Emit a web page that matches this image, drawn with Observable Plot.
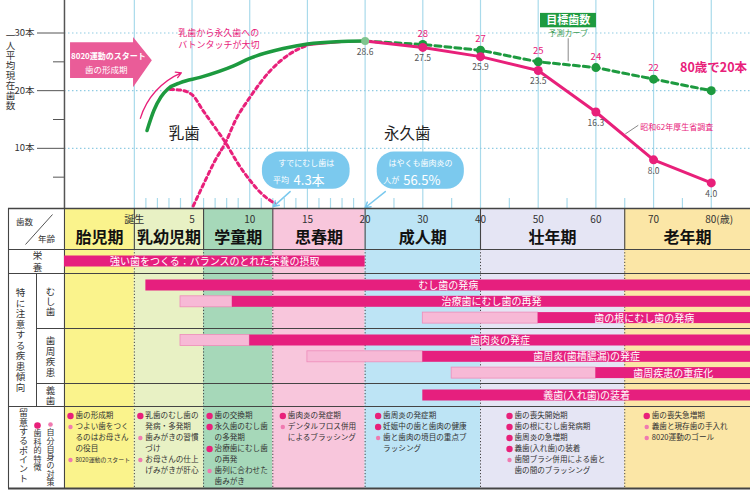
<!DOCTYPE html>
<html><head><meta charset="utf-8">
<script src="https://cdn.jsdelivr.net/npm/d3@7"></script>
<script src="https://cdn.jsdelivr.net/npm/@observablehq/plot@0.6"></script>
<style>
body{margin:0;background:#fff;}
#chart svg{display:block;}
</style></head><body><div id="chart"></div>
<script>
// ---------- DATA ----------
const gridAges = [0,5,10,15,20,30,40,50,60,70,80];
const ageLabels = ["誕生","5","10","15","20","30","40","50","60","70","80(歳)"];
const minorAges = [1,2,3,4,6,7,8,9,11,12,13,14,16,17,18,19,25,35,45,55,65,75];
const yTicks = [10,20,30];
const yTickLabels = ["10本","20本","30本"];
const yMinorTicks = [5,15,25];

const surveyAges = [20,30,40,50,60,70,80];
const surveyTeeth = [28.6,27.5,25.9,23.5,16.3,8.0,4.0];
const targetAges = [20,30,40,50,60,70,80];
const targetTeeth = [28.6,28,27,25,24,22,20];
const currentAges = [1.1,1.7,2.3,2.9,4,5.7,8.6,10,12.9,15,17.5,20];
const currentTeeth = [13.1,16.6,18.9,20.3,21.4,22.3,24.3,25.6,27.3,28.1,28.5,28.6];
const babyAges = [3.1,4,5,6,7,7.9,9,10,11,12.2];
const babyTeeth = [20.2,20.1,19.3,16.4,13.6,11.0,7.3,4.5,2.2,0.4];
const permAges = [5.1,6,7,7.9,8.75,10,11.8,13.5,15];
const permTeeth = [0,3.8,7.9,11.0,14.8,18.8,23.5,26.4,27.9];
const permSolidAges = [15,17.5,20];
const permSolidTeeth = [27.9,28.4,28.6];

const stages = ["胎児期","乳幼児期","学童期","思春期","成人期","壮年期","老年期"];
const stageStart = [-Infinity,0,6,12,20,40,65];
const stageEnd = [0,6,12,20,40,65,Infinity];

const barRows = ["栄養","むし歯","むし歯","むし歯","歯周疾患","歯周疾患","歯周疾患","義歯"];
const barTexts = ["強い歯をつくる：バランスのとれた栄養の摂取","むし歯の発病","治療歯にむし歯の再発","歯の根にむし歯の発病","歯肉炎の発症","歯周炎(歯槽膿漏)の発症","歯周疾患の重症化","義歯(入れ歯)の装着"];
const barLightFrom = [null,null,4,30,4,15,35,null];
const barDarkFrom = [-Infinity,1,8.5,50,10,30,60,30];
const barTo = [20,Infinity,Infinity,Infinity,Infinity,Infinity,Infinity,Infinity];

const careFetal = [["d","歯の形成期"],["s","つよい歯をつく\nるのはお母さん\nの役目"],["s","8020運動のスタート"]];
const careInfant = [["d","乳歯のむし歯の\n発病・多発期"],["s","歯みがきの習慣\nづけ"],["s","お母さんの仕上\nげみがきが肝心"]];
const careSchool = [["d","歯の交換期"],["d","永久歯のむし歯\nの多発期"],["d","治療歯にむし歯\nの再発"],["s","歯列に合わせた\n歯みがき"]];
const carePuberty = [["d","歯肉炎の発症期"],["s","デンタルフロス併用\nによるブラッシング"]];
const careAdult = [["d","歯周炎の発症期"],["d","妊娠中の歯と歯肉の健康"],["s","歯と歯肉の境目の重点ブ\nラッシング"]];
const careMiddle = [["d","歯の喪失開始期"],["d","歯の根にむし歯発病期"],["d","歯周炎の急増期"],["d","義歯(入れ歯)の装着"],["s","歯間ブラシ併用による歯と\n歯の間のブラッシング"]];
const careOld = [["d","歯の喪失急増期"],["s","義歯と現存歯の手入れ"],["s","8020運動のゴール"]];

// ---------- STYLE / LAYOUT ----------
const FONT = "'Noto Sans CJK JP','Noto Sans',sans-serif";
const PINK = "#e8207a", GREEN = "#1d9a3f", BLUE = "#7bc9ee";
const stageFill = ["#faf38c","#e8f1c4","#a6d8b9","#f8c6dc","#bde4f5","#e5e5f4","#fbe6a6"];
const careIndent = [6,6,6,10,13,29,22];
const XMIN = -2.32, XMAX = 10.68, XL = -1.211;
const PX_PER_X = 750 / (XMAX - XMIN);
const pxX = px => XMIN + px / PX_PER_X;   // label-column layout helper
const ax = a => a === -Infinity ? XL : a === Infinity ? XMAX : (a <= 20 ? a / 5 : 4 + (a - 20) / 10);
const pairs = (xs, ys) => xs.map((a, i) => ({age: a, teeth: ys[i]}));
const ems = s => [...s].reduce((t, c) => t + (c.charCodeAt(0) < 128 ? 0.56 : 1), 0);
// vertical (tategaki) labels: [fontSize, character pitch]
const vStyle = {"一人平均現在歯数": [9.5, 10], "栄養": [9.5, 12], "特に注意する疾患傾向": [9.5, 10.5], "むし歯": [9.5, 10.3],
  "歯周疾患": [9.5, 10.7], "義歯": [9.5, 10.7], "留意するポイント": [9, 9.3], "歯科的特徴": [8, 8.5], "自分自身の対策": [8, 8.3]};
const vtext = (label, x, y) => Plot.text([label], {x, y, text: d => [...d].join("\n"),
  fontSize: vStyle[label][0], lineHeight: vStyle[label][1] / vStyle[label][0], fill: "#333"});

const survey = pairs(surveyAges, surveyTeeth);
const target = pairs(targetAges, targetTeeth);
const current = pairs(currentAges, currentTeeth);
const baby = pairs(babyAges, babyTeeth);
const perm = pairs(permAges, permTeeth);
const permSolid = pairs(permSolidAges, permSolidTeeth);
const X = d => ax(d.age);

// ---------- CHART ----------
const chart = Plot.plot({
  width: 750, height: 208, margin: 0,
  x: {domain: [XMIN, XMAX], range: [0, 750], axis: null},
  y: {domain: [0, 30], range: [205.5, 32.5], axis: null},
  style: {fontFamily: FONT, background: "white", overflow: "visible"},
  marks: [
    Plot.ruleX(gridAges, {x: ax, stroke: "#a9daeb", strokeWidth: 1.2}),
    Plot.ruleY(yTicks, {y: d => d, x1: XL, x2: XMAX, stroke: "#8fcbe3", strokeWidth: 1.2, strokeDasharray: "1.5,2.5"}),
    Plot.ruleX(minorAges, {x: ax, y1: -0.45, y2: 1.3, stroke: "#a9daeb", strokeWidth: 1.2}),
    Plot.ruleX([XL], {x: d => d, stroke: "#555", strokeWidth: 1.5}),
    Plot.ruleY(yTicks, {y: d => d, x1: pxX(37), x2: XL, stroke: "#555"}),
    Plot.ruleY(yMinorTicks, {y: d => d, x1: pxX(53), x2: XL, stroke: "#555"}),
    Plot.text(yTicks, {y: d => d, x: pxX(34), text: (d, i) => yTickLabels[i], textAnchor: "end", fontSize: 9.5, fill: "#333"}),
    vtext("一人平均現在歯数", pxX(10), 23.5),
    // 8020 arrow box
    Plot.area([{a: -5.53, lo: 22.1, hi: 28.3}, {a: -0.07, lo: 22.1, hi: 28.3}, {a: -0.07, lo: 20.5, hi: 29.2}, {a: 1.56, lo: 25.2, hi: 25.2}],
      {x1: d => ax(d.a), y1: "lo", y2: "hi", fill: "#ea5c98", curve: "linear"}),
    Plot.text(["8020運動のスタート"], {x: ax(-2.25), y: 25.9, text: d => d, fill: "white", fontWeight: "bold", fontSize: 8}),
    Plot.text(["歯の形成期"], {x: ax(-2.43), y: 23.5, text: d => d, fill: "white", fontSize: 8.5}),
    Plot.arrow([0], {x1: ax(0.52), y1: 15.2, x2: ax(4.07), y2: 23.1, bend: 25, stroke: PINK, strokeWidth: 1.3, headLength: 7}),
    // curves
    Plot.line(baby, {x: X, y: "teeth", curve: "monotone-x", stroke: PINK, strokeWidth: 3, strokeDasharray: "3.5,3.5"}),
    Plot.line(perm, {x: X, y: "teeth", curve: "monotone-x", stroke: PINK, strokeWidth: 3, strokeDasharray: "3.5,3.5"}),
    Plot.line(permSolid, {x: X, y: "teeth", curve: "monotone-x", stroke: PINK, strokeWidth: 2.5}),
    Plot.line(current, {x: X, y: "teeth", curve: "monotone-x", stroke: GREEN, strokeWidth: 3.5}),
    Plot.line(target, {x: X, y: "teeth", stroke: GREEN, strokeWidth: 3, strokeDasharray: "6,4"}),
    Plot.line(survey, {x: X, y: "teeth", stroke: PINK, strokeWidth: 3}),
    Plot.dot(target.slice(1), {x: X, y: "teeth", r: 4.5, fill: GREEN}),
    Plot.dot(survey.slice(1), {x: X, y: "teeth", r: 4.5, fill: PINK}),
    Plot.dot(survey.slice(0, 1), {x: X, y: "teeth", r: 4, fill: "#7fc58f"}),
    Plot.text(survey, {x: X, y: "teeth", text: d => d.teeth.toFixed(1), dy: 11, fontSize: 8.5, fill: "#555"}),
    Plot.text(target.slice(1, -1), {x: X, y: "teeth", text: d => String(d.teeth), dy: -11, fontSize: 9.5, fill: PINK}),
    // annotations
    Plot.text(["乳歯から永久歯への\nバトンタッチが大切"], {x: ax(3.8), y: 29.1, text: d => d, textAnchor: "start", lineHeight: 1.3, fontSize: 9, fill: PINK}),
    Plot.text(["乳歯"], {x: ax(4.33), y: 12.4, text: d => d, fontSize: 15.5, fill: "#222"}),
    Plot.text(["永久歯"], {x: ax(27.3), y: 12.4, text: d => d, fontSize: 15.5, fill: "#222"}),
    Plot.rect([0], {x1: ax(50.4), x2: ax(60.1), y1: 30.9, y2: 33.4, fill: GREEN}),
    Plot.text(["目標歯数"], {x: ax(55.2), y: 32.15, text: d => d, fill: "white", fontWeight: "bold", fontSize: 11}),
    Plot.text(["予測カーブ"], {x: ax(55.2), y: 30.0, text: d => d, fill: "#3a9a50", fontSize: 8}),
    Plot.ruleX([55.2], {x: ax, y1: 25.0, y2: 29.0, stroke: "#888"}),
    Plot.text(["昭和62年厚生省調査"], {x: ax(67.7), y: 13.6, text: d => d, textAnchor: "start", fill: PINK, fontSize: 8}),
    Plot.link([0], {x1: ax(67.35), y1: 14.0, x2: ax(65.1), y2: 12.5, stroke: "#888"}),
    Plot.text(["80歳で20本"], {x: ax(74.6), y: 24, text: d => d, textAnchor: "start", fill: PINK, fontWeight: "bold", fontSize: 12.5}),
    // bubbles
    Plot.rect([{a1: 11.1, a2: 18.7}, {a1: 22.1, a2: 37.2}], {x1: d => ax(d.a1), x2: d => ax(d.a2), y1: 2.9, y2: 9.35, rx: 17, fill: BLUE}),
    Plot.arrow([{a1: 13.5, a2: 12.05, t2: -0.1}, {a1: 23.5, a2: 20, t2: -0.3}], {x1: d => ax(d.a1), y1: 2.5, x2: d => ax(d.a2), y2: "t2", stroke: BLUE, strokeWidth: 1.5, headLength: 6}),
    Plot.text(["すでにむし歯は"], {x: ax(14.9), y: 7.4, text: d => d, fill: "white", fontSize: 8}),
    Plot.text(["平均"], {x: ax(13.4), y: 4.4, text: d => d, textAnchor: "end", fill: "white", fontSize: 8}),
    Plot.text(["4.3本"], {x: ax(13.8), y: 4.4, text: d => d, textAnchor: "start", fill: "white", fontSize: 13}),
    Plot.text(["はやくも歯肉炎の"], {x: ax(29.6), y: 7.4, text: d => d, fill: "white", fontSize: 8}),
    Plot.text(["人が"], {x: ax(25.9), y: 4.4, text: d => d, textAnchor: "end", fill: "white", fontSize: 8}),
    Plot.text(["56.5%"], {x: ax(26.6), y: 4.4, text: d => d, textAnchor: "start", fill: "white", fontSize: 13})
  ]
});

// ---------- TABLE ----------
const rowTop = {"栄養": 41, "むし歯": 65, "歯周疾患": 120, "義歯": 175};
const slotCount = {};
const bars = barRows.map((r, i) => {
  const slot = slotCount[r] = (slotCount[r] ?? -1) + 1;
  return {row: r, text: barTexts[i], light: barLightFrom[i], dark: barDarkFrom[i], to: barTo[i], top: rowTop[r] + 6.5 + 16.3 * slot};
});
const stageData = stages.map((s, i) => ({name: s, start: stageStart[i], end: stageEnd[i], fill: stageFill[i]}));
const careByStage = [careFetal, careInfant, careSchool, carePuberty, careAdult, careMiddle, careOld];
const careLines = [];
careByStage.forEach((items, s) => {
  let li = 0;
  const avail = (ax(stageEnd[s]) - ax(stageStart[s])) * PX_PER_X - careIndent[s] - 9;
  items.forEach(([kind, txt]) => txt.split("\n").forEach((line, j) => {
    careLines.push({stage: s, line: li++, text: line, bullet: j === 0 ? kind : null, size: Math.min(7.6, avail / ems(line))});
  }));
});
const LINE = "#444";
const tableMarks = [
  Plot.rect(stageData, {x1: d => ax(d.start), x2: d => ax(d.end), y1: 0, y2: 280, fill: "fill"}),
  // horizontal borders
  Plot.ruleY([0], {y: d => d, x1: pxX(8), x2: XMAX, stroke: LINE, strokeWidth: 1.6}),
  Plot.ruleY([41, 65, 198], {y: d => d, x1: pxX(8), x2: XMAX, stroke: LINE, strokeWidth: 1.1}),
  Plot.ruleY([120, 175], {y: d => d, x1: pxX(36), x2: XMAX, stroke: LINE, strokeWidth: 1.1}),
  Plot.ruleY([280], {y: d => d, x1: pxX(8), x2: XMAX, stroke: LINE, strokeWidth: 2}),
  // vertical borders
  Plot.ruleX([pxX(8), XL], {x: d => d, y1: 0, y2: 280, stroke: LINE, strokeWidth: 1.1}),
  Plot.ruleX([pxX(36)], {x: d => d, y1: 65, y2: 198, stroke: LINE, strokeWidth: 1}),
  Plot.ruleX(stageStart.slice(1), {x: ax, y1: 0, y2: 41, stroke: LINE, strokeWidth: 1.1}),
  Plot.ruleX(stageStart.slice(1), {x: ax, y1: 41, y2: 280, stroke: LINE, strokeWidth: 1, strokeDasharray: "1.2,2"}),
  // header
  Plot.text(gridAges.slice(0, -1), {x: ax, y: 11, text: (d, i) => ageLabels[i], fontSize: 10, fill: "#333"}),
  Plot.text(gridAges.slice(-1), {x: ax, y: 11, text: () => ageLabels[ageLabels.length - 1], textAnchor: "start", dx: -6, fontSize: 10, fill: "#333"}),
  Plot.text(stageData, {x: d => (ax(d.start) + ax(d.end)) / 2, y: 29, text: "name", fontSize: 16, fontWeight: "bold", fill: "#111"}),
  Plot.text(["歯数"], {x: pxX(24), y: 14, text: d => d, fontSize: 8.5, fill: "#333"}),
  Plot.text(["年齢"], {x: pxX(46), y: 31, text: d => d, fontSize: 8.5, fill: "#333"}),
  Plot.link([0], {x1: pxX(52), y1: 6, x2: pxX(25), y2: 36, stroke: "#555"}),
  // left label column
  vtext("栄養", pxX(37), 53),
  vtext("特に注意する疾患傾向", pxX(20), 131.5),
  vtext("むし歯", pxX(50), 93),
  vtext("歯周疾患", pxX(50), 148),
  vtext("義歯", pxX(50), 187),
  vtext("留意するポイント", pxX(23), 237.5),
  Plot.dot([0], {x: pxX(37), y: 217, r: 3.3, fill: PINK}),
  vtext("歯科的特徴", pxX(37), 242),
  Plot.dot([0], {x: pxX(50), y: 216, r: 2.3, fill: "#f07ab0"}),
  vtext("自分自身の対策", pxX(50), 249),
  // bars
  Plot.rect(bars.filter(d => d.light != null), {x1: d => ax(d.light), x2: d => ax(d.dark), y1: "top", y2: d => d.top + 11, fill: "#f7b9d6", stroke: "#ee8cba", strokeWidth: 0.8}),
  Plot.rect(bars, {x1: d => ax(d.dark), x2: d => ax(d.to), y1: "top", y2: d => d.top + 11, fill: "#e61f7e"}),
  Plot.text(bars, {x: d => (ax(d.dark) + ax(d.to)) / 2, y: d => d.top + 5.7, text: "text", fill: "white", fontSize: 10})
];
stages.forEach((st, s) => {
  const lines = careLines.filter(d => d.stage === s);
  const x0 = ax(stageStart[s]);
  const yy = d => 207.5 + 11 * d.line;
  tableMarks.push(
    Plot.text(lines, {x: x0, y: yy, text: "text", dx: careIndent[s] + 5, textAnchor: "start", fontSize: "size", fill: "#333"}),
    Plot.dot(lines.filter(d => d.bullet === "d"), {x: x0, y: yy, dx: careIndent[s], r: 3.2, fill: PINK}),
    Plot.dot(lines.filter(d => d.bullet === "s"), {x: x0, y: yy, dx: careIndent[s], r: 2.2, fill: "#f07ab0"})
  );
});
const table = Plot.plot({
  width: 750, height: 283, margin: 0,
  x: {domain: [XMIN, XMAX], range: [0, 750], axis: null},
  y: {domain: [0, 283], range: [0, 283], axis: null},
  color: {type: "identity"},
  style: {fontFamily: FONT, background: "white", overflow: "visible"},
  marks: tableMarks
});
document.getElementById("chart").append(chart, table);
</script></body></html>
